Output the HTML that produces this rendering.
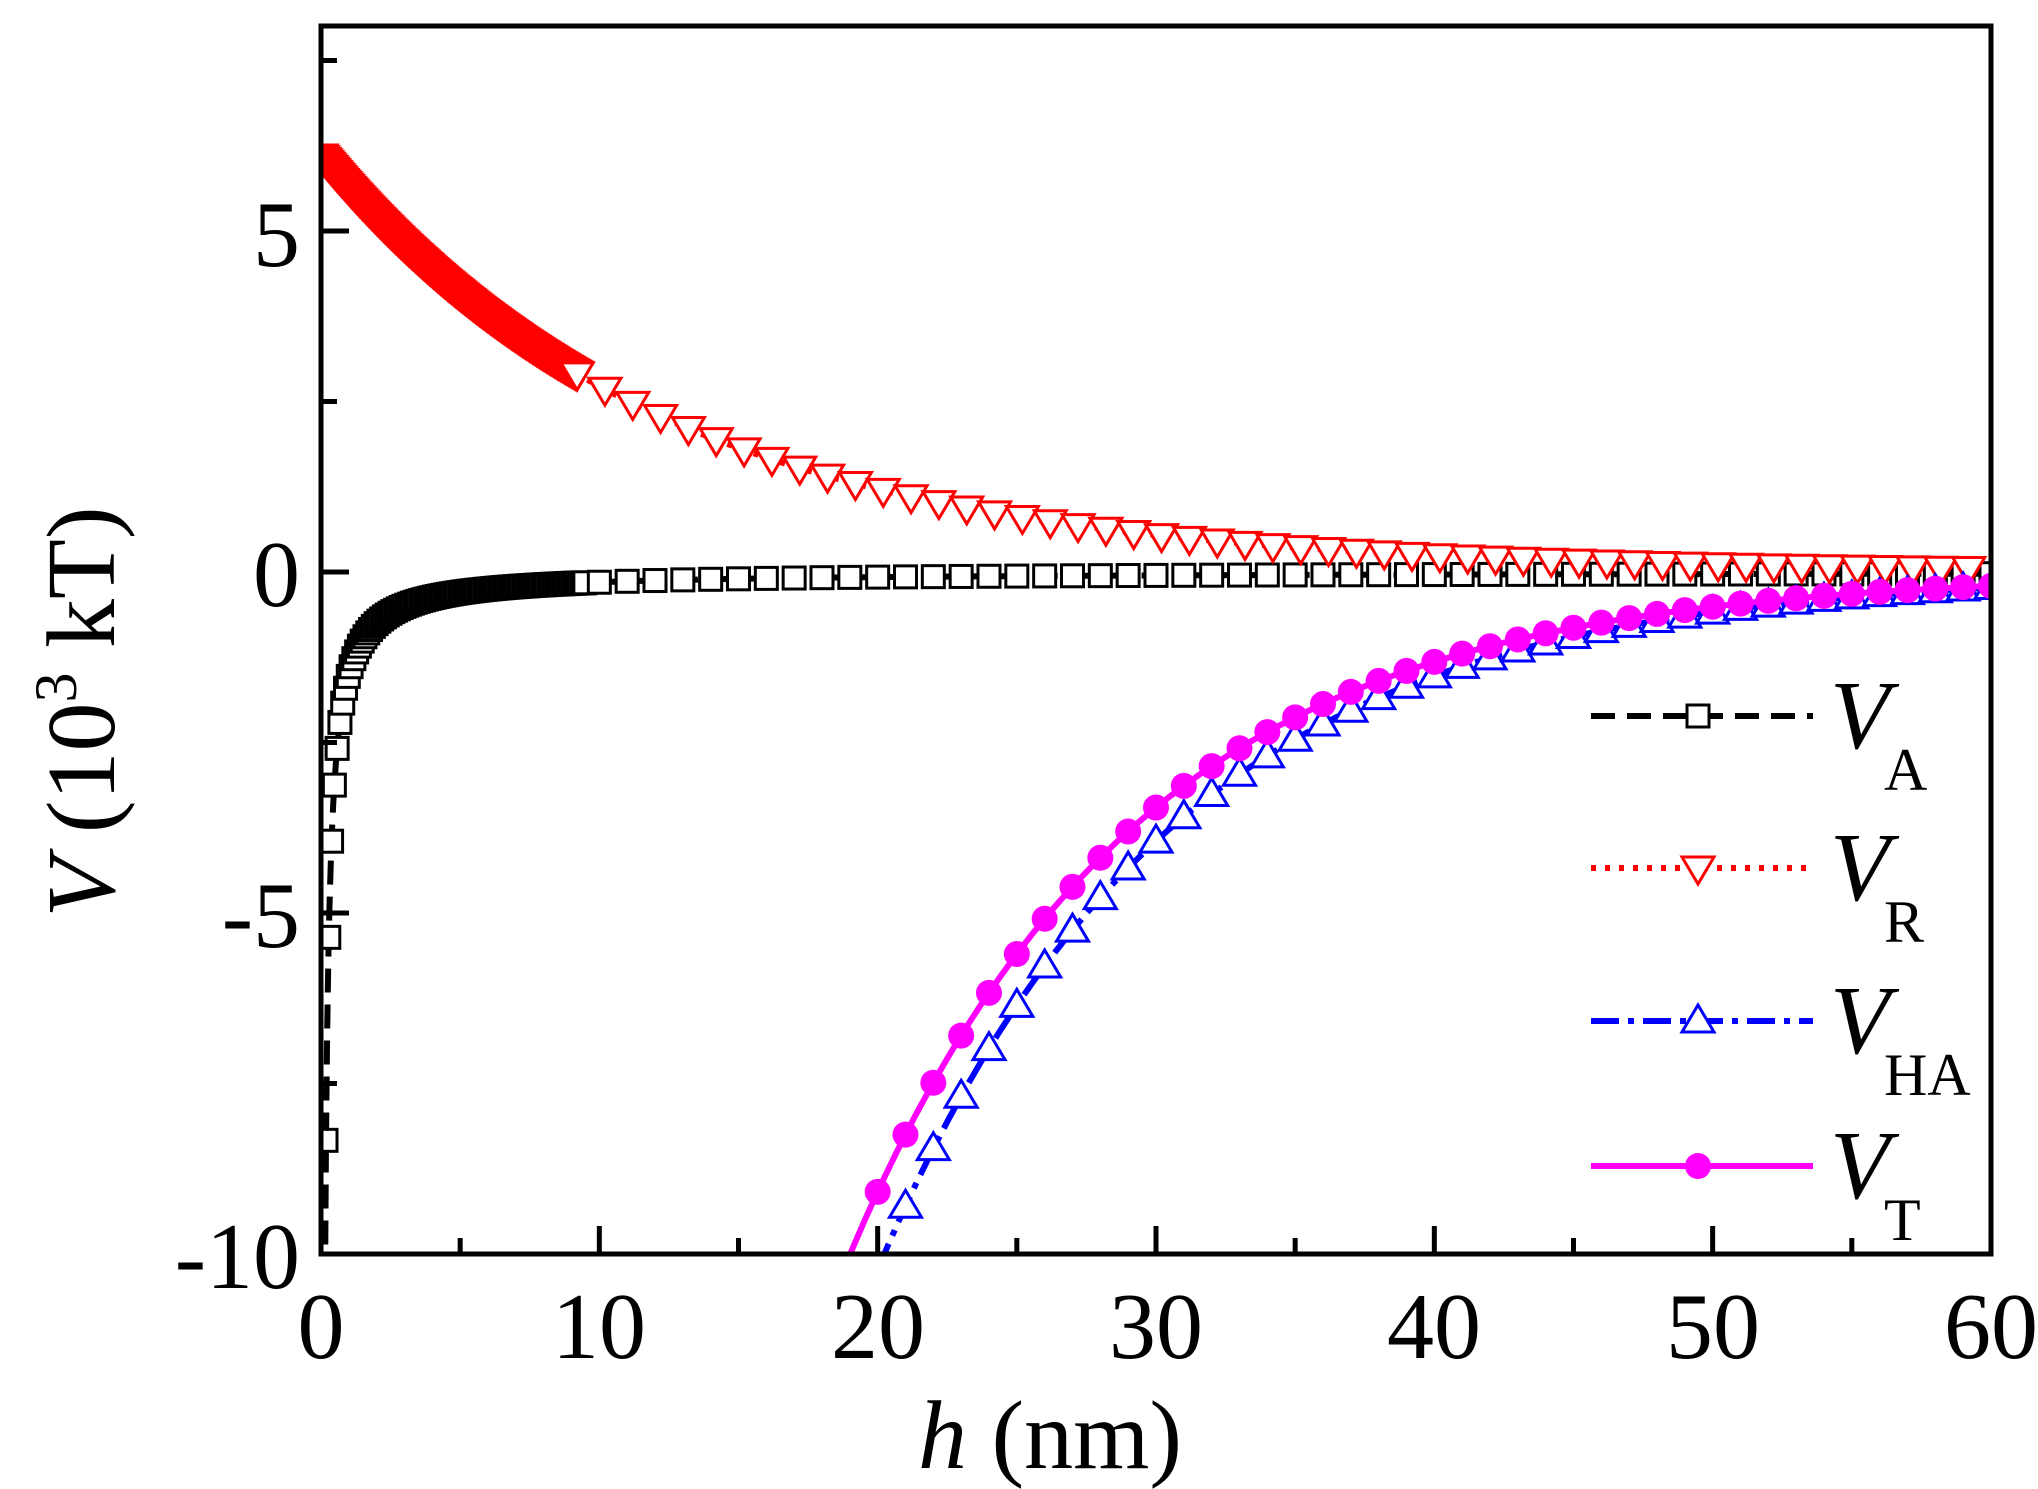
<!DOCTYPE html>
<html><head><meta charset="utf-8"><style>
html,body{margin:0;padding:0;background:#fff;}
svg{display:block;font-family:"Liberation Serif",serif;}
</style></head><body>
<svg id="s" width="2038" height="1489" viewBox="0 0 2038 1489" xmlns="http://www.w3.org/2000/svg">
<defs><clipPath id="c"><rect x="321" y="26" width="1670" height="1228"/></clipPath></defs>
<g id="data" clip-path="url(#c)"></g>
<g id="axes"></g>
<g font-size="94" fill="#000">
<text x="300" y="266" text-anchor="end">5</text>
<text x="300" y="606" text-anchor="end">0</text>
<text x="300" y="947" text-anchor="end">-5</text>
<text x="300" y="1288" text-anchor="end">-10</text>
<g text-anchor="middle">
<text x="321" y="1358">0</text><text x="599" y="1358">10</text><text x="878" y="1358">20</text>
<text x="1156" y="1358">30</text><text x="1434" y="1358">40</text><text x="1713" y="1358">50</text><text x="1991" y="1358">60</text>
</g>
<text x="1050" y="1468" text-anchor="middle" font-size="98"><tspan font-style="italic">h</tspan> (nm)</text>
<text transform="translate(114,712) rotate(-90)" text-anchor="middle" font-size="98"><tspan font-style="italic">V</tspan> (10<tspan font-size="60" dy="-38">3</tspan><tspan dy="38"> kT)</tspan></text>
</g>
<g id="leg"></g>
</svg>
<script>
var X=function(h){return 321+h*27.833;},Y=function(v){return 572-v*68.2;};
var NS="http://www.w3.org/2000/svg";
function el(p,t,a){var e=document.createElementNS(NS,t);for(var k in a)e.setAttribute(k,a[k]);p.appendChild(e);return e;}
var D=document.getElementById('data'),A=document.getElementById('axes'),L=document.getElementById('leg');
function VA(h){return -1.5/h;}function VR(h){return 6.1*Math.exp(-h/12.4);}
function VHA(h){return -9.3*Math.exp(-(h-21)/10.5);}function VT(h){return VA(h)+VR(h)+VHA(h);}
function path(f,a,b,st){var d='';for(var h=a;h<=b+1e-9;h+=st){d+=(d?'L':'M')+X(h).toFixed(1)+','+Y(f(h)).toFixed(1);}return d;}
el(D,'path',{d:path(VA,0.12,60,0.02),fill:'none',stroke:'#000','stroke-width':6,'stroke-dasharray':'24,12'});
el(D,'path',{d:path(VR,0,60,0.1),fill:'none',stroke:'#f00','stroke-width':6,'stroke-dasharray':'5,9'});
el(D,'path',{d:path(VHA,20,60,0.1),fill:'none',stroke:'#00f','stroke-width':6,'stroke-dasharray':'28,9,6,9'});
el(D,'path',{d:path(VT,19,60,0.1),fill:'none',stroke:'#f0f','stroke-width':6});
function sq(p,x,y){el(p,'rect',{x:x-11,y:y-11,width:22,height:22,fill:'#fff',stroke:'#000','stroke-width':3});}
function tdn(p,x,y){el(p,'path',{d:'M'+(x-16)+','+(y-11)+'h32l-16,27z',fill:'#fff',stroke:'#f00','stroke-width':3});}
function tup(p,x,y){el(p,'path',{d:'M'+(x-16)+','+(y+11)+'h32l-16,-27z',fill:'#fff',stroke:'#00f','stroke-width':3});}
function cir(p,x,y){el(p,'circle',{cx:x,cy:y,r:13,fill:'#f0f'});}
var h;
for(h=0.18;h<9.5;h+=0.1)sq(D,X(h),Y(VA(h)));
for(h=10;h<=60;h+=1)sq(D,X(h),Y(VA(h)));
for(h=0;h<9.2;h+=0.05)tdn(D,X(h),Y(VR(h)));
for(h=9.2;h<=60;h+=1)tdn(D,X(h),Y(VR(h)));
for(h=21;h<=60;h+=1)tup(D,X(h),Y(VHA(h)));
for(h=20;h<=60;h+=1)cir(D,X(h),Y(VT(h)));
el(A,'rect',{x:321,y:26,width:1670,height:1228,fill:'none',stroke:'#000','stroke-width':5});
for(var v=-10;v<=8;v+=2.5){var len=(Math.abs(v%5)<1e-6)?28:16;el(A,'line',{x1:321,y1:Y(v),x2:321+len,y2:Y(v),stroke:'#000','stroke-width':5});}
for(var x=0;x<=60;x+=5){var len=(x%10==0)?28:16;el(A,'line',{x1:X(x),y1:1254,x2:X(x),y2:1254-len,stroke:'#000','stroke-width':5});}
var ly=[716,868,1021,1166],names=['A','R','HA','T'];
var st=[{stroke:'#000','stroke-dasharray':'24,12'},{stroke:'#f00','stroke-dasharray':'5,9'},{stroke:'#00f','stroke-dasharray':'28,9,6,9'},{stroke:'#f0f'}];
for(var i=0;i<4;i++){var a={x1:1591,y1:ly[i],x2:1813,y2:ly[i],'stroke-width':6};for(var k in st[i])a[k]=st[i][k];el(L,'line',a);
[sq,tdn,tup,cir][i](L,1698,ly[i]);
var t=el(L,'text',{x:1830,y:ly[i]+32,'font-size':98,'font-style':'italic'});t.textContent='V';
var s=el(L,'text',{x:1884,y:ly[i]+74,'font-size':60});s.textContent=names[i];}
</script>
</body></html>
